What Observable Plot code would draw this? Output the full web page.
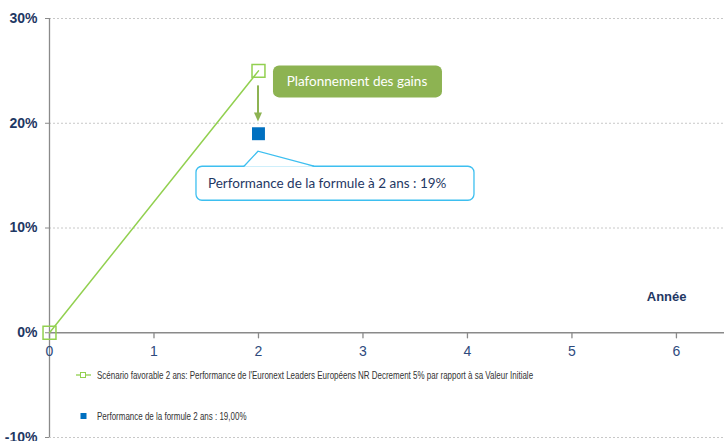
<!DOCTYPE html>
<html><head><meta charset="utf-8">
<script src="https://cdn.jsdelivr.net/npm/d3@7"></script>
<script src="https://cdn.jsdelivr.net/npm/@observablehq/plot@0.6"></script>
<style>
body{margin:0;background:#fff;}
#wrap{position:relative;width:724px;height:441px;overflow:hidden;}
#legend{position:absolute;left:76px;top:366px;font-family:"Liberation Sans",Arial,sans-serif;font-size:10.5px;color:#333;}
#legend .item{display:flex;align-items:center;height:18px;white-space:nowrap;}
#legend .item svg{margin-right:6px;flex:none;}
#legend .item span{display:inline-block;transform:scaleX(0.76);transform-origin:left center;}
</style>
</head><body>
<div id="wrap"><div id="legend"></div></div>
<script>
// Data
const years = [0, 2];
const scenario = [0, 0.25];
const formulaYear = [2];
const formulaPerf = [0.19];
const xTicks = [0, 1, 2, 3, 4, 5, 6];
const yTicks = [-0.1, 0, 0.1, 0.2, 0.3];
const gridTicks = [-0.1, 0.1, 0.2, 0.3];
const capLabel = "Plafonnement des gains";
const perfLabel = "Performance de la formule à 2 ans : 19%";
const xTitle = "Année";
const legendLabels = [
  "Scénario favorable 2 ans: Performance de l'Euronext Leaders Européens NR Decrement 5% par rapport à sa Valeur Initiale",
  "Performance de la formule 2 ans : 19,00%"
];

const green = "#92D050";
const boxGreen = "#8DB352";
const blue = "#0070C0";
const navy = "#1F3864";
const calloutStroke = "#3DBFF0";

const scenData = years.map((x, i) => ({x, y: scenario[i]}));
const perfData = formulaYear.map((x, i) => ({x, y: formulaPerf[i]}));

function capAnnotation(index, {x, y}) {
  const px = x(years[1]), py = y(scenario[1]);
  const g = d3.create("svg:g");
  g.append("rect").attr("x", px + 15).attr("y", py - 5).attr("width", 169).attr("height", 32)
    .attr("rx", 6).attr("fill", boxGreen);
  g.append("text").attr("x", px + 99).attr("y", py + 11).attr("text-anchor", "middle")
    .attr("dominant-baseline", "central").attr("fill", "#fff")
    .attr("font-family", "Lato, 'Open Sans', sans-serif").attr("font-size", 13.5).text(capLabel);
  g.append("line").attr("x1", px).attr("x2", px).attr("y1", py + 15).attr("y2", py + 43)
    .attr("stroke", boxGreen).attr("stroke-width", 2);
  g.append("path").attr("d", `M${px - 4},${py + 42}L${px + 4},${py + 42}L${px},${py + 51}Z`).attr("fill", boxGreen);
  return g.node();
}

function perfAnnotation(index, {x, y}) {
  const px = x(formulaYear[0]), py = y(formulaPerf[0]);
  const g = d3.create("svg:g");
  g.append("rect").attr("x", px - 62).attr("y", py + 33).attr("width", 278).attr("height", 34)
    .attr("rx", 6).attr("fill", "#fff").attr("stroke", calloutStroke).attr("stroke-width", 1.3);
  g.append("path").attr("d", `M${px - 14},${py + 33.5}L${px},${py + 18}L${px + 56},${py + 33.5}Z`)
    .attr("fill", "#fff");
  g.append("path").attr("d", `M${px - 14},${py + 33}L${px},${py + 18}L${px + 56},${py + 33}`)
    .attr("fill", "none").attr("stroke", calloutStroke).attr("stroke-width", 1.3);
  g.append("text").attr("x", px - 50).attr("y", py + 50).attr("dominant-baseline", "central")
    .attr("text-anchor", "start")
    .attr("fill", navy).attr("font-family", "Lato, 'Open Sans', sans-serif").attr("font-size", 13.5).text(perfLabel);
  return g.node();
}

const tickShape = {draw(ctx, l) { ctx.moveTo(0, 0); ctx.lineTo(0, -l); }};

const chart = Plot.plot({
  width: 724, height: 441,
  marginLeft: 49, marginRight: 0, marginTop: 18, marginBottom: 4,
  style: {background: "#fff"},
  x: {domain: [0, 6.46], axis: null},
  y: {domain: [-0.1, 0.3]},
  marks: [
    Plot.gridY(gridTicks, {stroke: "#c8c8c8", strokeOpacity: 1, strokeDasharray: "2,2"}),
    Plot.ruleX([0], {stroke: "#8a8a8a", strokeWidth: 1.3}),
    Plot.axisY(yTicks, {tickFormat: d => Math.round(d * 100) + "%", fontSize: 14, fontWeight: "bold",
      fontFamily: "Liberation Sans, Arial, sans-serif", fill: navy, stroke: "#8a8a8a", tickSize: 4, tickPadding: 8, label: null}),
    Plot.ruleY([0], {stroke: "#8a8a8a", strokeWidth: 1.3}),
    Plot.vector(xTicks, {x: d => d, y: 0, length: 5, rotate: 180, anchor: "start", shape: tickShape, stroke: "#8a8a8a", strokeWidth: 1.3}),
    Plot.text(xTicks, {x: d => d, y: 0, dy: 19, text: d => String(d), fontSize: 14,
      fontFamily: "Liberation Sans, Arial, sans-serif", fill: "#2E4A7D"}),
    Plot.text([xTitle], {frameAnchor: "right", y: [0], dx: -38, dy: -36, text: d => d, fontSize: 13, fontWeight: "bold",
      fontFamily: "Liberation Sans, Arial, sans-serif", fill: navy}),
    Plot.line(scenData, {x: "x", y: "y", stroke: green, strokeWidth: 1.5}),
    Plot.dot(scenData, {x: "x", y: "y", symbol: "square", r: 7.3, fill: "none", stroke: green, strokeWidth: 1.5}),
    Plot.dot(perfData, {x: "x", y: "y", symbol: "square", r: 7.3, fill: blue}),
    capAnnotation,
    perfAnnotation
  ]
});
document.getElementById("wrap").prepend(chart);
chart.style.position = "absolute"; chart.style.left = "0"; chart.style.top = "0";

const legend = d3.select("#legend");
const it1 = legend.append("div").attr("class", "item");
const s1 = it1.append("svg").attr("width", 15).attr("height", 10);
s1.append("line").attr("x1", 0).attr("x2", 15).attr("y1", 5).attr("y2", 5).attr("stroke", green).attr("stroke-width", 1.3);
s1.append("rect").attr("x", 4.5).attr("y", 2.5).attr("width", 5).attr("height", 5).attr("fill", "#fff").attr("stroke", green);
it1.append("span").text(legendLabels[0]);
legend.append("div").style("height", "23px");
const it2 = legend.append("div").attr("class", "item");
const s2 = it2.append("svg").attr("width", 15).attr("height", 10);
s2.append("rect").attr("x", 4.5).attr("y", 2).attr("width", 6).attr("height", 6).attr("fill", blue);
it2.append("span").text(legendLabels[1]);
</script>
</body></html>
